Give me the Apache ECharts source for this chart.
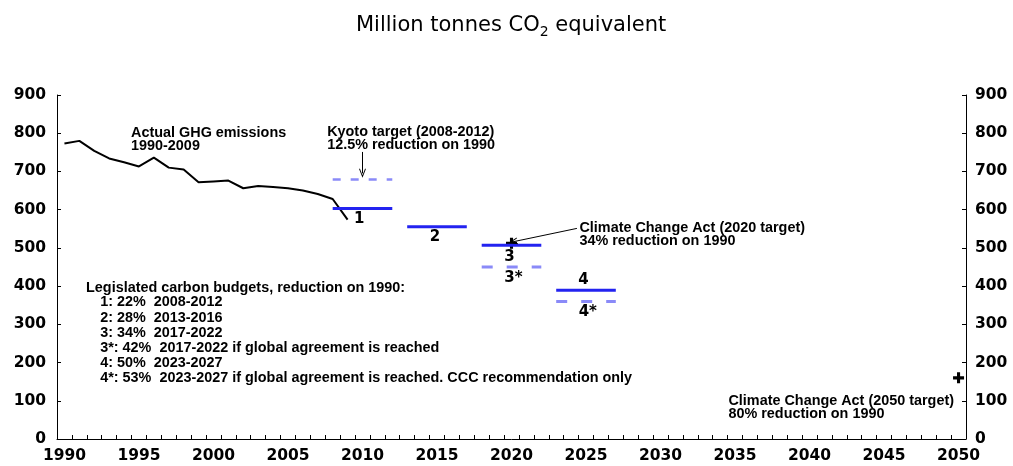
<!DOCTYPE html>
<html>
<head>
<meta charset="utf-8">
<script src="https://cdn.jsdelivr.net/npm/echarts@6/dist/echarts.min.js"></script>
<style>
html,body{margin:0;padding:0;background:#fff;}
#chart{width:1013px;height:466px;}
</style>
</head>
<body>
<div id="chart"></div>
<script>
// ---- data ----
const emissionYears = [1990,1991,1992,1993,1994,1995,1996,1997,1998,1999,2000,2001,2002,2003,2004,2005,2006,2007,2008,2009];
const emissions = [773,780,754,734,724,713,736,710,705,672,674,676,656,662,659,656,650,641,628,574];

const budgetNames = ['1','2','3','4'];
const budgetStart = [2008,2013,2018,2023];
const budgetEnd = [2012,2017,2022,2027];
const budgetValues = [603,555,507,389];

const dashedNames = ['Kyoto','3*','4*'];
const dashedStart = [2008,2018,2023];
const dashedEnd = [2012,2022,2027];
const dashedValues = [679,450,360];

const targetYears = [2020,2050];
const targetValues = [512,160];

const yTicks = [0,100,200,300,400,500,600,700,800,900];
const xFirstYear = 1990, xLastYear = 2050;

// annotation anchors in data units (year, value)
const notes = [
  {x:1994.47, y:784, text:'Actual GHG emissions\n1990-2009'},
  {x:2007.63, y:785, text:'Kyoto target (2008-2012)\n12.5% reduction on 1990'},
  {x:2024.56, y:535, text:'Climate Change Act (2020 target)\n34% reduction on 1990'},
  {x:2034.56, y:83, text:'Climate Change Act (2050 target)\n80% reduction on 1990'}
];
const legendHeader = {x:1991.45, y:395, text:'Legislated carbon budgets, reduction on 1990:'};
const legendItems = {x:1992.4, y:258, text:'1: 22%  2008-2012\n2: 28%  2013-2016\n3: 34%  2017-2022\n3*: 42%  2017-2022 if global agreement is reached\n4: 50%  2023-2027\n4*: 53%  2023-2027 if global agreement is reached. CCC recommendation only'};
const numberLabels = [
  {x:2009.78, y:575, text:'1'},
  {x:2014.87, y:529, text:'2'},
  {x:2019.86, y:477, text:'3'},
  {x:2020.13, y:421, text:'3*'},
  {x:2024.83, y:417, text:'4'},
  {x:2025.12, y:333, text:'4*'}
];
const arrows = [
  {from:[2010,751], to:[2010,695]},
  {from:[2024.39,551], to:[2020.1,516]}
];

// ---- styles ----
const TICKFONT = 'DejaVu Sans';
const NOTEFONT = 'Liberation Sans';
const dashStyle = {
  'Kyoto': {width:2.5, type:[8,10]},
  '3*': {width:3, type:[11,14]},
  '4*': {width:3, type:[11,14]}
};

const categories = [];
for (let y = xFirstYear; y <= xLastYear; y++) categories.push(String(y));

const series = [];
series.push({
  type:'line', xAxisIndex:1, yAxisIndex:0, silent:true,
  data: emissionYears.map((y,i)=>[y, emissions[i]]),
  showSymbol:false, symbol:'none',
  lineStyle:{color:'#000', width:2}, itemStyle:{color:'#000'},
  markLine:{
    silent:true, animation:false,
    symbol:['none','path://M5,0 L10,10 L8.6,10 L5,2.8 L1.4,10 L0,10 Z'],
    symbolSize:[7,9],
    lineStyle:{color:'#000', width:1, type:'solid', opacity:1},
    label:{show:false},
    data: arrows.map(a=>[{coord:a.from},{coord:a.to}])
  }
});
budgetNames.forEach((n,i)=>{
  series.push({
    type:'line', name:'Budget '+n, xAxisIndex:1, yAxisIndex:0, silent:true,
    data:[[budgetStart[i], budgetValues[i]],[budgetEnd[i], budgetValues[i]]],
    symbol:'none', lineStyle:{color:'#2323f0', width:3, cap:'butt'}
  });
});
dashedNames.forEach((n,i)=>{
  series.push({
    type:'line', name:n, xAxisIndex:1, yAxisIndex:0, silent:true,
    data:[[dashedStart[i], dashedValues[i]],[dashedEnd[i], dashedValues[i]]],
    symbol:'none', lineStyle:{color:'#8a8af8', width:dashStyle[n].width, type:dashStyle[n].type, cap:'butt'}
  });
});
series.push({
  type:'scatter', xAxisIndex:1, yAxisIndex:0, silent:true,
  data: targetYears.map((y,i)=>[y, targetValues[i]]),
  symbol:'path://M3.6,0 H6.4 V3.6 H10 V6.4 H6.4 V10 H3.6 V6.4 H0 V3.6 H3.6 Z',
  symbolSize:11, itemStyle:{color:'#000', opacity:1}
});
const noteLabel = {show:true, position:'right', distance:0, formatter:'{b}', color:'#000', opacity:1,
  fontFamily:NOTEFONT, fontWeight:'bold', fontSize:14.4, lineHeight:13, align:'left'};
series.push({
  type:'scatter', xAxisIndex:1, yAxisIndex:0, silent:true,
  data: notes.map(n=>({value:[n.x,n.y], name:n.text})),
  symbolSize:0, itemStyle:{opacity:1}, label:noteLabel
});
series.push({
  type:'scatter', xAxisIndex:1, yAxisIndex:0, silent:true,
  data: [legendHeader, legendItems].map(n=>({value:[n.x,n.y], name:n.text})),
  symbolSize:0, itemStyle:{opacity:1}, label:Object.assign({}, noteLabel, {lineHeight:15.2})
});
series.push({
  type:'scatter', xAxisIndex:1, yAxisIndex:0, silent:true,
  data: numberLabels.map(n=>({value:[n.x,n.y], name:n.text})),
  symbolSize:0, itemStyle:{opacity:1},
  label:{show:true, position:'inside', formatter:'{b}', color:'#000', opacity:1,
         fontFamily:TICKFONT, fontWeight:'bold', fontSize:15}
});

const yAxisCommon = {
  type:'value', min:yTicks[0], max:yTicks[yTicks.length-1], interval:100,
  axisLine:{show:true, lineStyle:{color:'#000', width:1}},
  axisTick:{show:true, inside:true, length:4, lineStyle:{color:'#000'}},
  splitLine:{show:false},
  axisLabel:{color:'#000', fontFamily:TICKFONT, fontWeight:'bold', fontSize:15.5}
};

const option = {
  animation:false,
  backgroundColor:'#fff',
  title:{
    text:'{m|Million tonnes CO}{s|2}{m| equivalent}',
    left:356, top:13, padding:0,
    textStyle:{
      fontWeight:'normal',
      rich:{
        m:{fontFamily:TICKFONT, fontWeight:'normal', fontSize:21, color:'#000', lineHeight:26, verticalAlign:'middle'},
        s:{fontFamily:TICKFONT, fontWeight:'normal', fontSize:14, color:'#000', lineHeight:26, verticalAlign:'bottom'}
      }
    }
  },
  grid:{left:57, right:47, top:95, bottom:27, containLabel:false},
  xAxis:[
    {
      type:'category', data:categories, boundaryGap:true, position:'bottom',
      axisLine:{show:true, lineStyle:{color:'#000', width:1}},
      axisTick:{show:true, interval:0, inside:true, length:4, lineStyle:{color:'#000'}},
      axisLabel:{interval:4, margin:9, color:'#000', fontFamily:TICKFONT, fontWeight:'bold', fontSize:15.5},
      splitLine:{show:false}
    },
    {type:'value', min:xFirstYear-0.5, max:xLastYear+0.5, show:false}
  ],
  yAxis:[
    Object.assign({}, yAxisCommon, {position:'left', axisLabel:Object.assign({}, yAxisCommon.axisLabel, {margin:11})}),
    Object.assign({}, yAxisCommon, {position:'right', axisLabel:Object.assign({}, yAxisCommon.axisLabel, {margin:9})})
  ],
  series:series
};

const chart = echarts.init(document.getElementById('chart'), null, {renderer:'canvas'});
chart.setOption(option);
</script>
</body>
</html>
